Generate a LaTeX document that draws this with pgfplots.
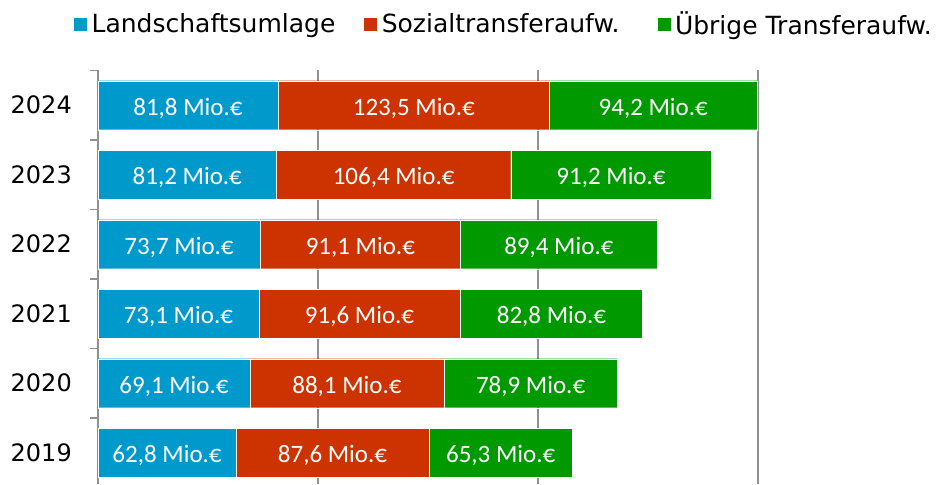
\documentclass[border=0pt]{standalone}
\usepackage{fontspec}
\setmainfont{DejaVu Sans}
\newfontfamily\carlito{Carlito}
\usepackage{pgfplots}
\usepackage{pgfplotstable}
\pgfplotsset{compat=1.18}

\definecolor{cBlue}{RGB}{0,153,204}
\definecolor{cRed}{RGB}{204,51,0}
\definecolor{cGreen}{RGB}{0,153,0}
\definecolor{gridgray}{RGB}{145,145,145}

% Mio. EUR je Jahr, 2019 unten
\pgfplotstableread{
y land landlab sozial soziallab uebrig uebriglab
0 62.8 62,8 87.6 87,6 65.3 65,3
1 69.1 69,1 88.1 88,1 78.9 78,9
2 73.1 73,1 91.6 91,6 82.8 82,8
3 73.7 73,7 91.1 91,1 89.4 89,4
4 81.2 81,2 106.4 106,4 91.2 91,2
5 81.8 81,8 123.5 123,5 94.2 94,2
}\data

\begin{document}
\begin{tikzpicture}
\begin{axis}[
  xbar stacked,
  scale only axis,
  width=660pt, height=413.5pt,
  xmin=0, xmax=300,
  ymin=-0.45, ymax=5.5,
  bar width=49pt,
  axis lines*=left,
  x axis line style={draw=none},
  y axis line style={draw=gridgray, line width=1.5pt},
  xtick={100,200,300},
  xticklabels={},
  xmajorgrids,
  major grid style={draw=gridgray, line width=1.5pt},
  major x tick style={draw=none},
  ytick={0,...,5},
  yticklabels={2019,2020,2021,2022,2023,2024},
  major tick length=0pt,
  major y tick style={draw=none},
  minor ytick={-0.5,0.5,1.5,2.5,3.5,4.5,5.5},
  minor y tick style={draw=gridgray, line width=1.5pt},
  minor tick length=8pt,
  tick align=outside,
  yticklabel style={font=\fontsize{24}{28}\selectfont, inner sep=0pt, xshift=-26pt},
  point meta=explicit symbolic,
  nodes near coords={\pgfplotspointmeta~Mio.€},
  every node near coord/.append style={anchor=center, yshift=-3pt,
    text=white, font=\carlito\fontsize{25}{30}\selectfont, inner sep=0pt},
  legend columns=3,
  legend image code/.code={\fill[#1] (0pt,-7pt) rectangle (14pt,7pt);},
  legend style={at={(axis description cs:-0.0379,1.083)}, anchor=south west,
    draw=none, fill=none, inner sep=0pt,
    font=\fontsize{25}{29}\selectfont,
    nodes={inner sep=0pt},
    /tikz/every odd column/.append style={column sep=4pt},
    /tikz/column 2/.style={column sep=28pt},
    /tikz/column 4/.style={column sep=37pt}},
]
\addplot[fill=cBlue, draw=white, line width=0.4pt] table[x=land, y=y, meta=landlab] {\data};
\addlegendentry{Landschaftsumlage}
\addplot[fill=cRed, draw=white, line width=0.4pt] table[x=sozial, y=y, meta=soziallab] {\data};
\addlegendentry{Sozialtransferaufw.}
\addplot[fill=cGreen, draw=white, line width=0.4pt] table[x=uebrig, y=y, meta=uebriglab] {\data};
\addlegendentry{Übrige Transferaufw.}
\end{axis}
\pgfresetboundingbox
\path[use as bounding box] ([xshift=-98pt]current axis.south west) rectangle ([xshift=180pt,yshift=70.5pt]current axis.north east);
\end{tikzpicture}
\end{document}
